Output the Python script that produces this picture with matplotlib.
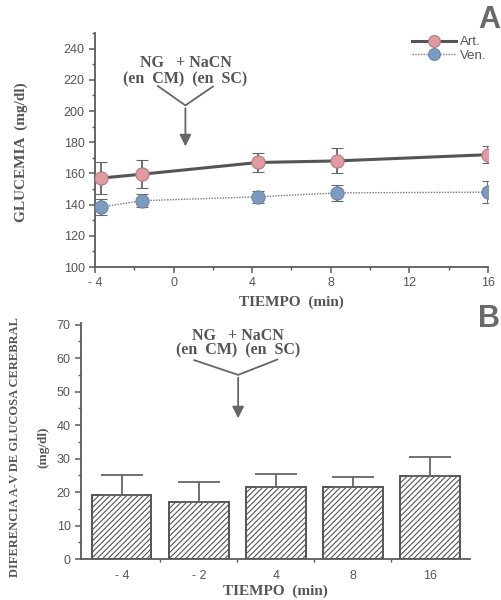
import matplotlib
matplotlib.use("Agg")
import matplotlib.pyplot as plt
from matplotlib.ticker import MultipleLocator, FixedLocator
from matplotlib.lines import Line2D
import numpy as np

# ---- Data ----
tiempo_a = [-3.7, -1.6, 4.3, 8.3, 16.0]
art = [157, 159.5, 167, 168, 172]
art_err = [10.5, 9, 6, 8, 5.6]
ven = [138.5, 142.5, 145, 147.5, 148]
ven_err = [5, 4, 3.8, 5, 7]

cats_b = ["- 4", "- 2", "4", "8", "16"]
dif = [19, 17, 21.4, 21.5, 24.7]
dif_err = [6, 6, 3.9, 3.1, 5.9]

xticks_a = [-4, 0, 4, 8, 12, 16]
xticklabels_a = ["- 4", "0", "4", "8", "12", "16"]

INK = "#5a5a5a"
TXT = "#555555"
PINK = "#e29aa2"
BLUE = "#7d9bc0"

plt.rcParams["font.family"] = ["Liberation Sans", "DejaVu Sans"]
plt.rcParams["hatch.color"] = "#707070"
plt.rcParams["hatch.linewidth"] = 0.8

fig = plt.figure(figsize=(5.02, 6.0), dpi=100)
W, H = 502, 600

def ax_rect(l, t, r, b):
    return [l / W, 1 - b / H, (r - l) / W, (b - t) / H]

serif = ["Liberation Serif", "DejaVu Serif"]

# ---------------- Panel A ----------------
axA = fig.add_axes(ax_rect(95, 33, 488, 267))
axA.set_xlim(-4, 16)
axA.set_ylim(100, 250)
for s in ["top", "right"]:
    axA.spines[s].set_visible(False)
for s in ["left", "bottom"]:
    axA.spines[s].set_color(INK)
    axA.spines[s].set_linewidth(1.3)

axA.errorbar(tiempo_a, art, yerr=art_err, color="#555555", lw=2.2, marker="o",
             ms=9.5, mfc=PINK, mec="#b07a80", mew=0.8, ecolor="#666666",
             elinewidth=1.3, capsize=4, capthick=1.3, zorder=3)
axA.errorbar(tiempo_a, ven, yerr=ven_err, color="#777777", lw=1.0, ls=(0, (1, 1)),
             marker="o", ms=9.5, mfc=BLUE, mec="#6a84a8", mew=0.8, ecolor="#666666",
             elinewidth=1.3, capsize=4, capthick=1.3, zorder=3)

axA.set_xticks(xticks_a)
axA.set_xticklabels(xticklabels_a)
axA.xaxis.set_minor_locator(MultipleLocator(2))
axA.set_yticks(np.arange(100, 250, 20))
axA.yaxis.set_minor_locator(MultipleLocator(10))
axA.tick_params(axis="both", which="major", colors=INK, labelcolor=TXT,
                labelsize=9, length=4, width=1.1, direction="out")
axA.tick_params(axis="both", which="minor", colors=INK, length=2.5, width=1.0,
                direction="out")
axA.tick_params(axis="x", pad=3)

axA.set_xlabel("TIEMPO  (min)", fontfamily=serif, fontweight="bold",
               fontsize=11, color=TXT, labelpad=5)
fig.text(21 / W, 1 - 152 / H, "GLUCEMIA  (mg/dl)", rotation=90, ha="center",
         va="center", fontfamily=serif, fontweight="bold", fontsize=11,
         color=TXT)

axA.text(0.6, 231, "NG   + NaCN", ha="center", va="center", fontfamily=serif,
         fontweight="bold", fontsize=11.5, color=TXT)
axA.text(0.6, 220.5, "(en  CM)  (en  SC)", ha="center", va="center",
         fontfamily=serif, fontweight="bold", fontsize=11.5, color=TXT)
axA.plot([-0.8, 0.6, 2.0], [216, 203.6, 215.7], color="#666666", lw=1.3)
axA.annotate("", xy=(0.6, 175.5), xytext=(0.6, 203.6),
             arrowprops=dict(arrowstyle="-|>,head_length=0.7,head_width=0.35",
                             color="#666666", lw=1.3))

h_art = Line2D([], [], color="#555555", lw=2.2, marker="o", ms=8.5,
               mfc=PINK, mec="#b07a80", mew=0.8)
h_ven = Line2D([], [], color="#777777", lw=1.0, ls=(0, (1, 1)), marker="o",
               ms=8.5, mfc=BLUE, mec="#6a84a8", mew=0.8)
fig.legend([h_art, h_ven], ["Art.", "Ven."], loc="upper left",
           bbox_to_anchor=(412 / W, 1 - 36 / H), frameon=False, fontsize=9.5,
           handlelength=3.3, handletextpad=0.3, labelspacing=0.1,
           borderaxespad=0.0, borderpad=0.0, labelcolor=TXT)
fig.text(489 / W, 1 - 20 / H, "A", ha="center", va="center", fontsize=22,
         fontweight="bold", color="#6a6a6a")

# ---------------- Panel B ----------------
axB = fig.add_axes(ax_rect(81, 323, 470, 559))
xb = np.arange(len(cats_b))
axB.set_xlim(-0.53, 4.52)
axB.set_ylim(0, 70.5)
for s in ["top", "right"]:
    axB.spines[s].set_visible(False)
for s in ["left", "bottom"]:
    axB.spines[s].set_color(INK)
    axB.spines[s].set_linewidth(1.3)

axB.bar(xb, dif, width=0.77, color="white", edgecolor="#555555", lw=1.4,
        hatch="//////", zorder=2)
axB.errorbar(xb, dif, yerr=[np.zeros(len(dif)), dif_err], fmt="none",
             ecolor="#666666", elinewidth=1.3, capsize=15, capthick=1.3, zorder=3)

axB.set_xticks(xb)
axB.set_xticklabels(cats_b)
axB.xaxis.set_minor_locator(FixedLocator(xb[:-1] + 0.5))
axB.set_yticks(np.arange(0, 71, 10))
axB.yaxis.set_minor_locator(MultipleLocator(5))
axB.tick_params(axis="x", which="major", length=0, labelsize=9, labelcolor=TXT,
                pad=8)
axB.tick_params(axis="y", which="major", colors=INK, labelcolor=TXT,
                labelsize=9, length=4, width=1.1, direction="out")
axB.tick_params(axis="both", which="minor", colors=INK, length=2.5, width=1.0,
                direction="out")

axB.set_xlabel("TIEMPO  (min)", fontfamily=serif, fontweight="bold",
               fontsize=11, color=TXT, labelpad=2)
fig.text(15 / W, 1 - 447 / H, "DIFERENCIA A-V DE GLUCOSA CEREBRAL",
         rotation=90, ha="center", va="center", fontfamily=serif,
         fontweight="bold", fontsize=9, color=TXT)
fig.text(43 / W, 1 - 447 / H, "(mg/dl)", rotation=90, ha="center",
         va="center", fontfamily=serif, fontweight="bold", fontsize=9.5,
         color=TXT)

axB.text(1.51, 66.7, "NG   + NaCN", ha="center", va="center", fontfamily=serif,
         fontweight="bold", fontsize=11.5, color=TXT)
axB.text(1.51, 62.4, "(en  CM)  (en  SC)", ha="center", va="center",
         fontfamily=serif, fontweight="bold", fontsize=11.5, color=TXT)
axB.plot([0.94, 1.51, 2.02], [59.4, 55.0, 59.6], color="#666666", lw=1.3)
axB.annotate("", xy=(1.51, 41.2), xytext=(1.51, 55.0),
             arrowprops=dict(arrowstyle="-|>,head_length=0.7,head_width=0.35",
                             color="#666666", lw=1.3))
fig.text(489 / W, 1 - 319 / H, "B", ha="center", va="center", fontsize=22,
         fontweight="bold", color="#6a6a6a")

fig.savefig("out.png", dpi=100)
